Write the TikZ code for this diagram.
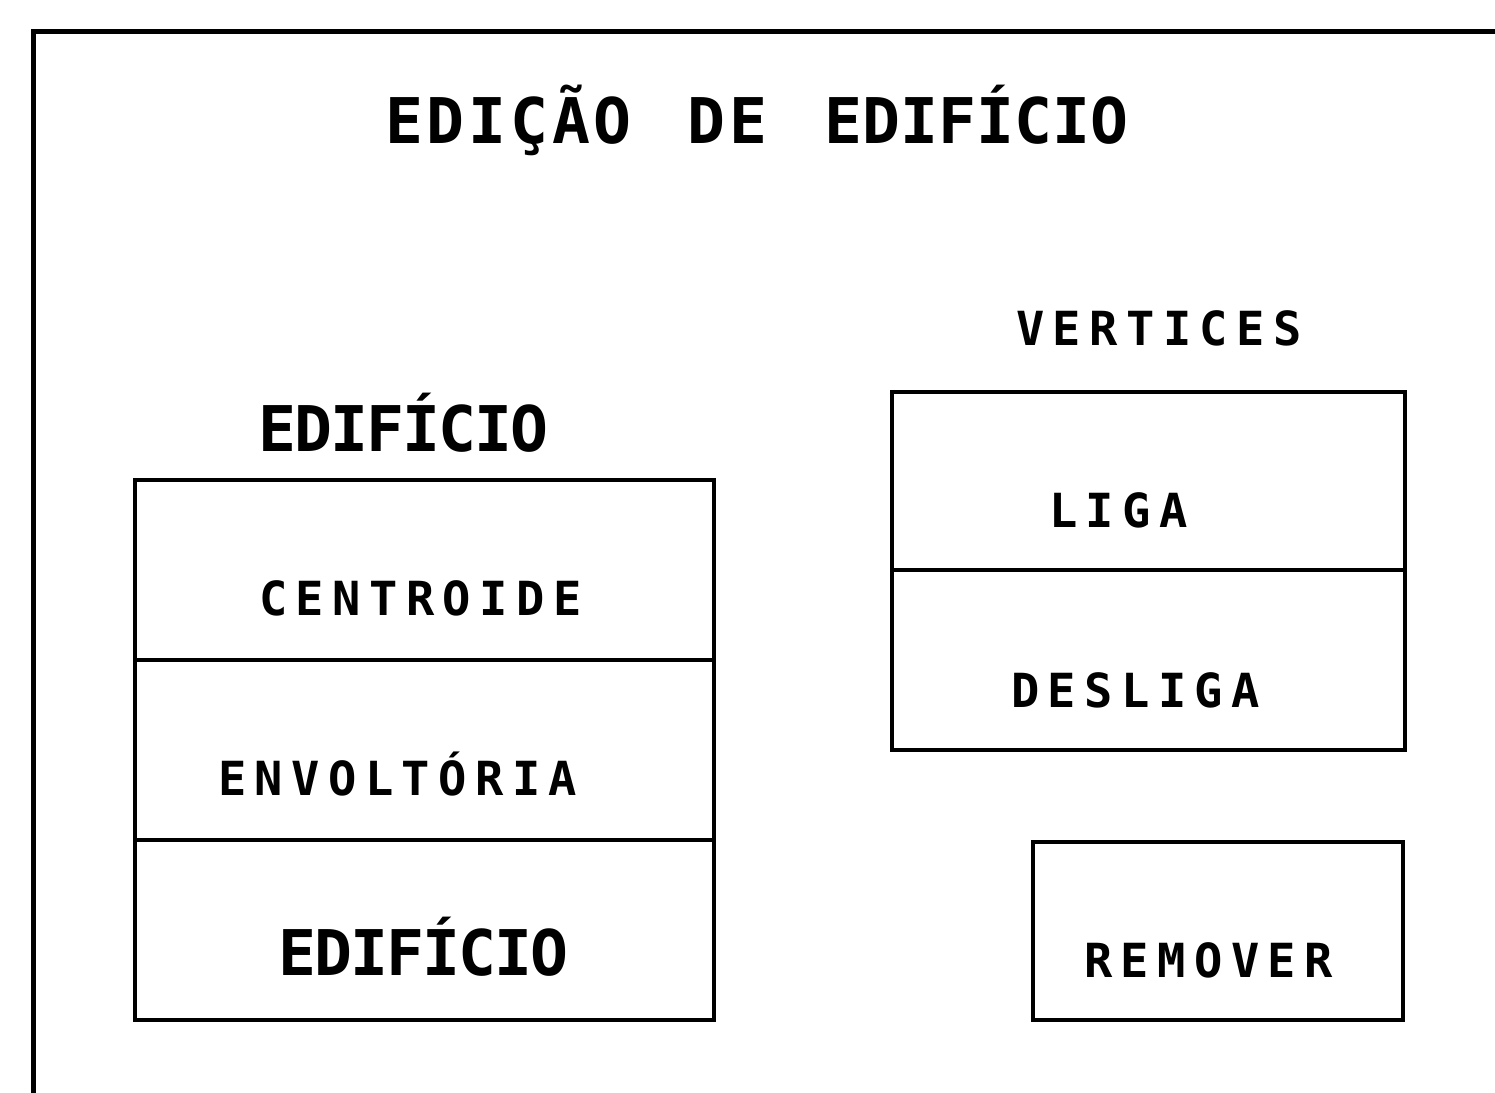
\documentclass[tikz,border=0pt]{standalone}
\usepackage{fontspec}
\newfontfamily\plotbig[LetterSpace=6]{DejaVu Sans Mono Bold}
\newfontfamily\plotbigtight[LetterSpace=0]{DejaVu Sans Mono Bold}
\newfontfamily\plotmid[LetterSpace=-3]{DejaVu Sans Mono Bold}
\newfontfamily\plotsmall[LetterSpace=18]{DejaVu Sans Mono Bold}
\tikzset{
  frameline/.style={line width=5pt, line cap=rect},
  cell/.style={draw, line width=4.5pt, minimum width=#1, inner sep=0pt, outer sep=0pt},
  titletxt/.style={inner sep=0pt, anchor=base west, font=\plotbig\fontsize{63}{70}\selectfont},
  midtxt/.style={inner sep=0pt, anchor=base west, font=\plotmid\fontsize{63}{70}\selectfont},
  smalltxt/.style={inner sep=0pt, anchor=base west, font=\plotsmall\fontsize{47}{52}\selectfont}
}
\begin{document}
\begin{tikzpicture}[x=1pt,y=-1pt]
\useasboundingbox (0,0) rectangle (1495,1092);
% outer frame (right and bottom outside the picture)
\coordinate (fbl) at (33,1092);
\coordinate (ftl) at (33,31);
\coordinate (ftr) at (1495,31);
\draw[frameline] (fbl) -- (ftl) -- (ftr);
% left stack
\node[cell=579pt, minimum height=180pt] (centroide) at (424.5,570) {};
\node[cell=579pt, minimum height=180pt] (envoltoria) at (424.5,750) {};
\node[cell=579pt, minimum height=180pt] (edificio) at (424.5,930) {};
% right stack
\node[cell=513pt, minimum height=178pt] (liga) at (1148.5,481) {};
\node[cell=513pt, minimum height=180pt] (desliga) at (1148.5,660) {};
% remover
\node[cell=370pt, minimum height=178pt] (remover) at (1218,931) {};
% texts
\node[titletxt] (title) at (385,143) {EDIÇÃO\hspace{14pt} DE\hspace{16pt} {\plotbigtight\fontsize{63}{70}\selectfont EDIFÍCIO}};
\node[smalltxt] (vertices) at (1016,345) {VERTICES};
\node[midtxt] (edlabel) at (258,451) {EDIFÍCIO};
\node[smalltxt] (tcentroide) at (259,615) {CENTROIDE};
\node[smalltxt] (tenvoltoria) at (218,795) {ENVOLTÓRIA};
\node[midtxt] (tedificio) at (278,975) {EDIFÍCIO};
\node[smalltxt] (tliga) at (1049,527) {LIGA};
\node[smalltxt] (tdesliga) at (1011,707) {DESLIGA};
\node[smalltxt] (tremover) at (1084,977) {REMOVER};
\end{tikzpicture}
\end{document}
